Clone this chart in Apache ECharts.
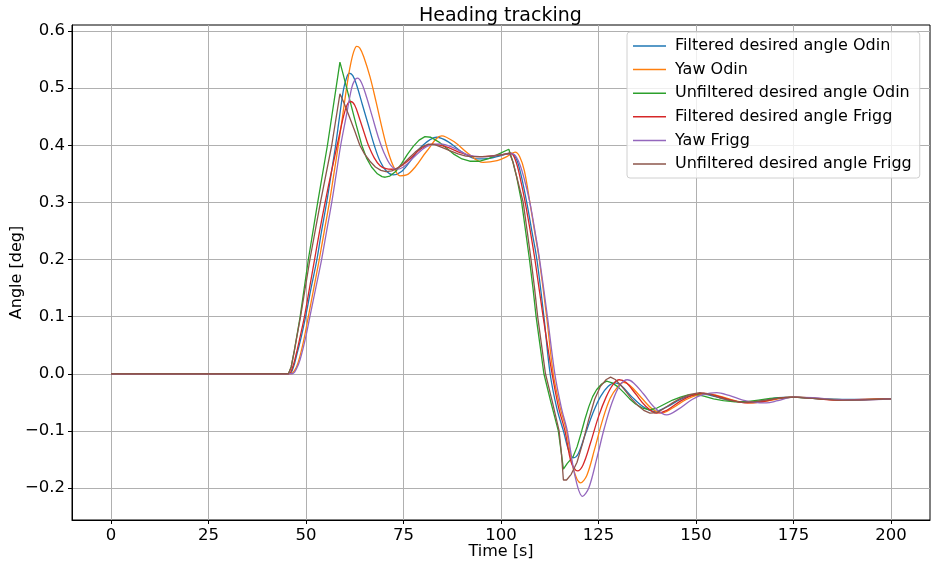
<!DOCTYPE html>
<html>
<head>
<meta charset="utf-8">
<script src="https://cdn.jsdelivr.net/npm/echarts@6/dist/echarts.min.js"></script>
<style>
html,body{margin:0;padding:0;background:#fff;}
#chart{width:939px;height:562px;}
</style>
</head>
<body>
<div id="chart"></div>
<script>
const xTicks = [0, 25, 50, 75, 100, 125, 150, 175, 200];
const yTicks = [-0.2, -0.1, 0.0, 0.1, 0.2, 0.3, 0.4, 0.5, 0.6];
const seriesNames = [
  'Filtered desired angle Odin',
  'Yaw Odin',
  'Unfiltered desired angle Odin',
  'Filtered desired angle Frigg',
  'Yaw Frigg',
  'Unfiltered desired angle Frigg'
];

// [time s, angle]
const filteredOdin = [[0,0],[45.7,0],[46.7,0.01],[47.7,0.035],[48.8,0.065],[49.9,0.1],[51.3,0.15],[52.8,0.2],[54,0.25],[55.3,0.3],[56.5,0.352],[57.6,0.4],[58.6,0.45],[59.6,0.497],[60.4,0.518],[61.1,0.526],[62,0.522],[63,0.505],[64.5,0.47],[66,0.435],[67.5,0.4],[69,0.372],[70.7,0.354],[72.4,0.348],[74.3,0.353],[76.5,0.37],[79.5,0.397],[83.5,0.414],[86.5,0.406],[90,0.388],[93.8,0.376],[97,0.377],[100,0.382],[102.5,0.386],[103.8,0.378],[105,0.352],[106.6,0.3],[107.9,0.25],[109.2,0.2],[111,0.1],[112.6,0],[114.3,-0.06],[116,-0.1],[117.4,-0.135],[118.6,-0.147],[119.8,-0.14],[121.5,-0.108],[123.5,-0.07],[125.5,-0.04],[127.5,-0.022],[129.2,-0.016],[131,-0.022],[133.5,-0.04],[136.5,-0.058],[139.5,-0.066],[142.5,-0.058],[146,-0.045],[149,-0.038],[152,-0.036],[155,-0.04],[159,-0.047],[163,-0.05],[167,-0.047],[171,-0.042],[175,-0.041],[180,-0.043],[186,-0.045],[193,-0.045],[200,-0.044]];

const yawOdin = [[0,0],[46,0],[47,0.005],[48,0.02],[49.3,0.055],[50.6,0.1],[52,0.15],[53.4,0.2],[54.7,0.25],[56,0.3],[57.2,0.352],[58.3,0.4],[59.4,0.452],[60.4,0.5],[61.3,0.537],[62.2,0.563],[63,0.573],[63.8,0.57],[64.8,0.555],[66.4,0.52],[68,0.475],[69.5,0.43],[71,0.39],[72.5,0.362],[74.1,0.3465],[75.8,0.348],[78,0.362],[81,0.39],[84.8,0.4165],[88,0.406],[91.5,0.386],[95.4,0.37],[99,0.373],[101.5,0.38],[103.6,0.388],[104.8,0.38],[106,0.355],[107.4,0.3],[108.6,0.25],[109.8,0.2],[111.7,0.1],[113.4,0],[115.2,-0.06],[116.8,-0.1],[118.5,-0.165],[120.4,-0.191],[122,-0.178],[124,-0.132],[126,-0.082],[128,-0.043],[130,-0.022],[131.4,-0.015],[133,-0.02],[135.5,-0.038],[138.5,-0.06],[141.2,-0.069],[144,-0.06],[147.5,-0.045],[150.5,-0.037],[153,-0.035],[156,-0.039],[160,-0.047],[164,-0.051],[168,-0.048],[172,-0.043],[176,-0.041],[181,-0.043],[187,-0.046],[194,-0.045],[200,-0.044]];

const unfilteredOdin = [[0,0],[45.5,0],[46.2,0.012],[47,0.04],[48.5,0.1],[50.6,0.2],[53,0.3],[55.5,0.4],[57.7,0.5],[58.7,0.5455],[59.5,0.525],[61,0.485],[62.7,0.44],[64.3,0.4],[65.5,0.378],[66.8,0.362],[68.3,0.35],[69.5,0.345],[70.3,0.344],[71.5,0.346],[73,0.354],[74.5,0.368],[76,0.384],[77.5,0.398],[79,0.409],[80.5,0.415],[82,0.414],[84,0.406],[86,0.395],[88,0.384],[90,0.376],[92,0.372],[94.6,0.372],[97,0.377],[99.5,0.385],[102,0.393],[103,0.372],[104,0.345],[105.3,0.3],[106.3,0.25],[107.3,0.2],[108.2,0.15],[109,0.1],[110,0.05],[111,0],[112.8,-0.05],[114.7,-0.1],[115.4,-0.135],[116,-0.167],[117,-0.157],[118.5,-0.145],[119.5,-0.128],[120.5,-0.105],[121.5,-0.08],[122.5,-0.058],[123.5,-0.04],[124.5,-0.028],[125.8,-0.018],[127.1,-0.013],[128.5,-0.016],[130,-0.023],[131.5,-0.033],[133,-0.044],[134.5,-0.053],[136.3,-0.06],[138.2,-0.063],[140,-0.06],[142,-0.053],[144,-0.046],[146,-0.041],[148,-0.037],[150,-0.036],[152,-0.039],[154.5,-0.044],[157,-0.047],[160,-0.049],[163,-0.049],[166,-0.046],[169,-0.043],[172,-0.042],[175,-0.041],[178,-0.042],[182,-0.044],[186,-0.045],[190,-0.046],[195,-0.045],[200,-0.044]];

const filteredFrigg = [[0,0],[45.5,0],[46.5,0.01],[47.5,0.035],[48.5,0.065],[49.6,0.1],[50.9,0.15],[52.2,0.2],[53.5,0.25],[54.9,0.3],[56.4,0.35],[58,0.4],[59.6,0.45],[60.5,0.47],[61.4,0.4766],[62.5,0.47],[63.8,0.445],[65,0.42],[66,0.4],[67.5,0.378],[69,0.364],[70.5,0.359],[72,0.358],[74,0.362],[76.5,0.375],[79.5,0.394],[82.6,0.402],[86,0.397],[90,0.386],[93.8,0.38],[97,0.381],[100,0.383],[102.5,0.386],[103.8,0.372],[105,0.34],[106.2,0.3],[107.5,0.25],[108.7,0.2],[110.8,0.1],[113.1,0],[114.8,-0.06],[116.4,-0.1],[118,-0.155],[119.6,-0.17],[121,-0.16],[123,-0.12],[125,-0.075],[127,-0.04],[128.8,-0.018],[130.3,-0.0105],[132,-0.015],[134.5,-0.035],[137,-0.056],[139.9,-0.069],[142.5,-0.064],[146,-0.048],[149,-0.038],[152,-0.034],[155,-0.038],[159,-0.046],[163,-0.051],[167,-0.049],[171,-0.043],[175,-0.041],[180,-0.043],[186,-0.046],[193,-0.045],[200,-0.044]];

const yawFrigg = [[0,0],[46.5,0],[47.5,0.008],[48.5,0.025],[49.8,0.06],[51,0.1],[52.5,0.15],[54,0.2],[55.3,0.25],[56.6,0.3],[57.8,0.352],[58.9,0.4],[60.3,0.45],[61.7,0.5],[62.5,0.514],[63.2,0.5175],[64.2,0.51],[65.5,0.485],[67,0.45],[68.5,0.415],[70,0.387],[71.6,0.366],[73.2,0.358],[75,0.362],[77.5,0.378],[81,0.398],[84.4,0.4025],[88,0.395],[91.5,0.383],[94.6,0.38],[98,0.381],[101,0.384],[103,0.385],[104.5,0.372],[106,0.34],[107.4,0.3],[108.7,0.25],[109.9,0.2],[111.9,0.1],[113.8,0],[115.5,-0.06],[117,-0.1],[119,-0.18],[120.9,-0.2147],[122.5,-0.2],[124.5,-0.15],[126.5,-0.095],[128.5,-0.05],[130.5,-0.02],[132.4,-0.0105],[134,-0.016],[136.5,-0.035],[139.5,-0.06],[142.5,-0.072],[145.5,-0.062],[149,-0.045],[152,-0.036],[155.3,-0.033],[158.5,-0.038],[162,-0.046],[165,-0.05],[168,-0.051],[171,-0.047],[175,-0.041],[180,-0.042],[186,-0.045],[193,-0.046],[200,-0.044]];

const unfilteredFrigg = [[0,0],[45.5,0],[46.2,0.012],[47,0.04],[48.6,0.1],[51,0.2],[53.7,0.3],[56.6,0.4],[58.7,0.49],[59.7,0.475],[61,0.452],[62.5,0.425],[63.8,0.4],[65,0.385],[66.4,0.372],[67.8,0.362],[69.2,0.356],[70.5,0.354],[72,0.355],[73.5,0.36],[75,0.368],[76.5,0.378],[78,0.388],[79.7,0.397],[81.4,0.402],[83,0.401],[85,0.396],[87,0.39],[89,0.385],[91,0.381],[93,0.38],[96,0.38],[99,0.382],[102.2,0.386],[103.1,0.37],[104.2,0.34],[105.7,0.3],[106.7,0.25],[107.7,0.2],[108.6,0.15],[109.4,0.1],[110.4,0.05],[111.4,0],[113.2,-0.05],[114.9,-0.1],[115.5,-0.14],[116,-0.186],[116.8,-0.186],[118,-0.176],[119.5,-0.155],[121,-0.12],[122.5,-0.08],[124,-0.045],[125.5,-0.022],[127,-0.01],[128.1,-0.006],[129.3,-0.01],[130.7,-0.02],[132,-0.031],[133.5,-0.044],[135,-0.055],[136.6,-0.064],[138.2,-0.069],[140,-0.068],[142,-0.06],[144,-0.051],[146,-0.043],[148.5,-0.036],[151,-0.033],[153.5,-0.036],[156,-0.042],[159,-0.047],[162,-0.05],[165,-0.049],[168,-0.046],[171,-0.043],[175,-0.041],[180,-0.043],[186,-0.046],[192,-0.046],[200,-0.044]];

const seriesData = [filteredOdin, yawOdin, unfilteredOdin, filteredFrigg, yawFrigg, unfilteredFrigg];
const seriesSmooth = [0.35, 0.35, false, 0.35, 0.35, false];
const colors = ['#1f77b4', '#ff7f0e', '#2ca02c', '#d62728', '#9467bd', '#8c564b'];

const FONT = 'DejaVu Sans';
const chart = echarts.init(document.getElementById('chart'), null, {renderer: 'canvas'});

const fmtY = v => (Math.round(v * 10) / 10).toFixed(1).replace('-', '\u2212');

chart.setOption({
  animation: false,
  backgroundColor: '#fff',
  color: colors,
  title: {
    text: 'Heading tracking',
    left: 414, top: 2,
    textStyle: {fontFamily: FONT, fontSize: 19, fontWeight: 'normal', color: '#000'}
  },
  grid: {left: 72, right: 9, top: 25, bottom: 42, show: true, borderColor: '#000', borderWidth: 1, containLabel: false, outerBoundsMode: 'none'},
  legend: {
    orient: 'vertical', left: 627, top: 32,
    data: seriesNames,
    icon: 'rect', itemWidth: 33, itemHeight: 1.5, itemGap: 7.6,
    padding: [6, 8, 6, 6],
    backgroundColor: 'rgba(255,255,255,0.8)',
    borderColor: '#d0d0d0', borderWidth: 1, borderRadius: 3,
    textStyle: {fontFamily: FONT, fontSize: 16, color: '#000', lineHeight: 16, padding: [0, 0, 0, 4]}
  },
  xAxis: {
    type: 'value', min: -10, max: 210,
    name: 'Time [s]', nameLocation: 'middle', nameGap: 24, nameMoveOverlap: false,
    nameTextStyle: {fontFamily: FONT, fontSize: 16, color: '#000', verticalAlign: 'top'},
    axisLine: {show: true, onZero: false, lineStyle: {color: '#000', width: 1}},
    axisTick: {show: true, length: 4, lineStyle: {color: '#000'}, customValues: xTicks},
    axisLabel: {fontFamily: FONT, fontSize: 16.5, color: '#000', margin: 7, customValues: xTicks, formatter: v => String(Math.round(v))},
    splitLine: {show: true, lineStyle: {color: '#b0b0b0', width: 1}}
  },
  yAxis: {
    type: 'value', min: -0.256, max: 0.6105,
    name: 'Angle [deg]', nameLocation: 'middle', nameGap: 47, nameRotate: 90, nameMoveOverlap: false,
    nameTextStyle: {fontFamily: FONT, fontSize: 16, color: '#000'},
    axisLine: {show: true, onZero: false, lineStyle: {color: '#000', width: 1}},
    axisTick: {show: true, length: 4, lineStyle: {color: '#000'}, customValues: yTicks},
    axisLabel: {fontFamily: FONT, fontSize: 16.5, color: '#000', margin: 7, customValues: yTicks, formatter: fmtY},
    splitLine: {show: true, lineStyle: {color: '#b0b0b0', width: 1}}
  },
  series: seriesNames.map((name, i) => ({
    name: name,
    type: 'line',
    data: seriesData[i],
    showSymbol: false,
    symbol: 'none',
    smooth: seriesSmooth[i],
    lineStyle: {width: 1.3, color: colors[i]},
    itemStyle: {color: colors[i]},
    z: 2 + i
  }))
});
</script>
</body>
</html>
